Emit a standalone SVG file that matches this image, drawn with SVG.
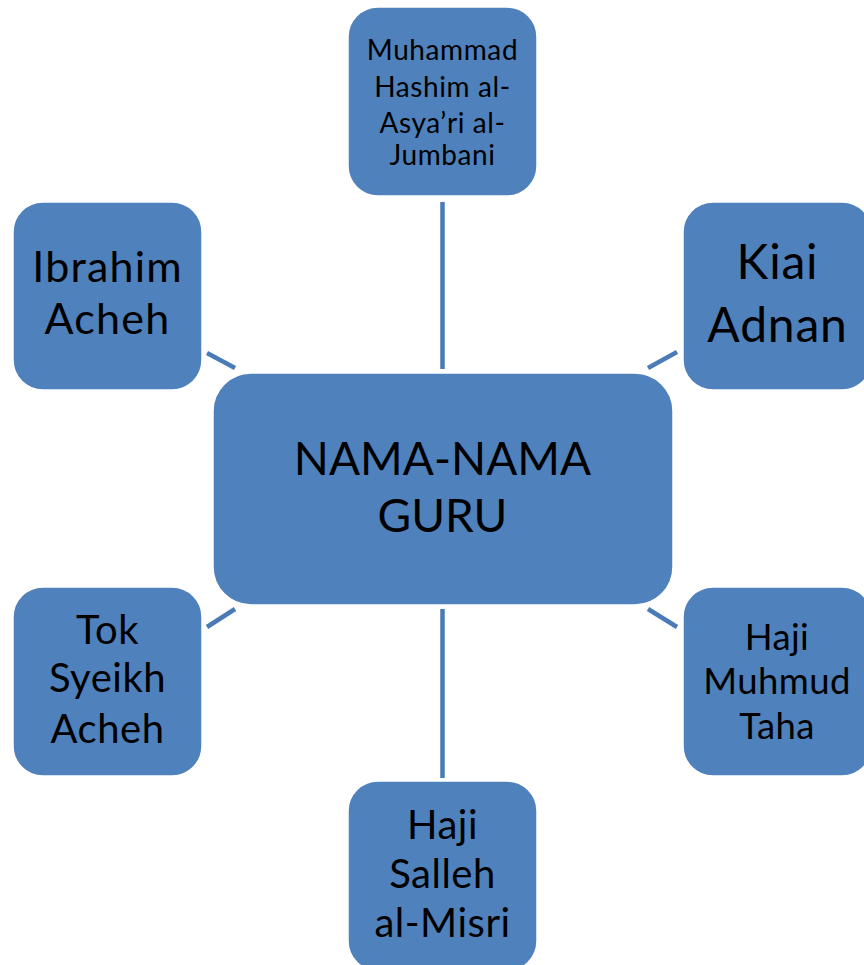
<svg xmlns="http://www.w3.org/2000/svg" width="864" height="965" viewBox="0 0 864 965">
<style>
.node{fill:#4F81BD;stroke:#ffffff;stroke-width:1.5}
.lbl{font-family:Lato,"Open Sans","Liberation Sans",sans-serif;fill:#000;text-anchor:middle}
.conn line{stroke:#4A7BB7;stroke-width:4.5}
</style>
<rect width="864" height="965" fill="#fff"/>
<g id="connectors" class="conn">
<line x1="442.5" y1="202" x2="442.5" y2="369"/>
<line x1="442.5" y1="609" x2="442.5" y2="778"/>
<line x1="207" y1="353" x2="235" y2="368"/>
<line x1="648" y1="368" x2="677" y2="352"/>
<line x1="207" y1="627" x2="235" y2="609"/>
<line x1="648" y1="609" x2="677" y2="627"/>
</g>
<g id="center">
<rect class="node" x="213" y="373" width="460" height="232" rx="38"/>
<text class="lbl" font-size="46" x="442.5" y="475">NAMA-NAMA</text>
<text class="lbl" font-size="46" x="442.5" y="532">GURU</text>
</g>
<g id="top">
<rect class="node" x="348" y="7" width="189" height="189" rx="30"/>
<text class="lbl" font-size="28" letter-spacing="0.6" x="442.5" y="60">Muhammad</text>
<text class="lbl" font-size="28" letter-spacing="0.6" x="442.5" y="97">Hashim al-</text>
<text class="lbl" font-size="28" letter-spacing="0.6" x="442.5" y="133">Asya’ri al-</text>
<text class="lbl" font-size="28" letter-spacing="0.6" x="442.5" y="165">Jumbani</text>
</g>
<g id="ibrahim">
<rect class="node" x="13" y="202" width="189" height="188" rx="30"/>
<text class="lbl" font-size="43" letter-spacing="1.2" x="107.5" y="282">Ibrahim</text>
<text class="lbl" font-size="43" letter-spacing="1.2" x="107.5" y="334">Acheh</text>
</g>
<g id="kiai">
<rect class="node" x="683" y="202" width="189" height="188" rx="30"/>
<text class="lbl" font-size="48" letter-spacing="0.8" x="777.5" y="279">Kiai</text>
<text class="lbl" font-size="48" letter-spacing="0.8" x="777.5" y="342">Adnan</text>
</g>
<g id="tok">
<rect class="node" x="13" y="587" width="189" height="189" rx="30"/>
<text class="lbl" font-size="40" letter-spacing="0.5" x="107.5" y="644">Tok</text>
<text class="lbl" font-size="40" letter-spacing="0.5" x="107.5" y="692">Syeikh</text>
<text class="lbl" font-size="40" letter-spacing="0.5" x="107.5" y="743">Acheh</text>
</g>
<g id="muhmud">
<rect class="node" x="683" y="587" width="189" height="189" rx="30"/>
<text class="lbl" font-size="36.5" letter-spacing="0.4" x="777" y="650">Haji</text>
<text class="lbl" font-size="36.5" letter-spacing="0.4" x="777" y="694">Muhmud</text>
<text class="lbl" font-size="36.5" letter-spacing="0.4" x="777" y="739">Taha</text>
</g>
<g id="salleh">
<rect class="node" x="348" y="781" width="189" height="190" rx="30"/>
<text class="lbl" font-size="40" letter-spacing="0.5" x="442.5" y="839">Haji</text>
<text class="lbl" font-size="40" letter-spacing="0.5" x="442.5" y="888">Salleh</text>
<text class="lbl" font-size="40" letter-spacing="0.5" x="442.5" y="937">al-Misri</text>
</g>
</svg>
